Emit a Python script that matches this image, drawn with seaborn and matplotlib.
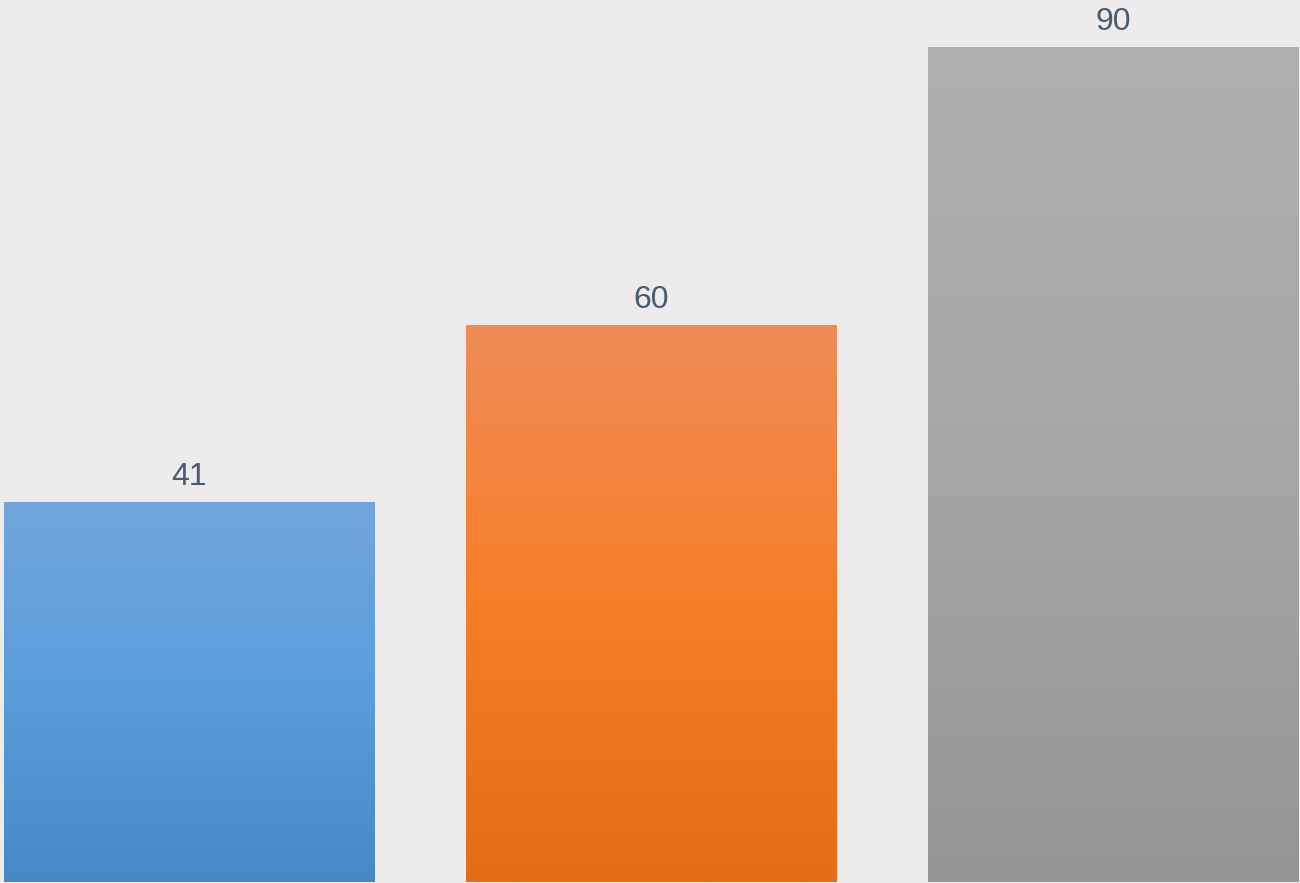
import matplotlib
matplotlib.use("Agg")
import matplotlib.pyplot as plt
import numpy as np
import pandas as pd
import seaborn as sns
from matplotlib.colors import LinearSegmentedColormap

sns.set_theme(style="white")
plt.rcParams["font.family"] = ["Liberation Sans", "DejaVu Sans"]

# data
categories = ["A", "B", "C"]
values = [41, 60, 90]

# gradient stops per bar (top, middle, bottom)
gradients = [
    ["#72a6dc", "#5a9ddd", "#4589c8"],
    ["#f08c58", "#f77e29", "#e46c17"],
    ["#b0b0b0", "#a6a6a6", "#959595"],
]
bg = "#edebec"
label_color = "#4a5a70"

df = pd.DataFrame({"category": categories, "value": values})

fig = plt.figure(figsize=(13, 8.83), dpi=100)
fig.patch.set_facecolor(bg)
ax = fig.add_axes([0, 1 / 883, 1, 1 - 1 / 883])
ax.set_facecolor(bg)

sns.barplot(data=df, x="category", y="value", hue="category",
            palette=[g[1] for g in gradients], width=0.803,
            legend=False, ax=ax, saturation=1)

for patch, stops, val in zip(ax.patches, gradients, values):
    x0, w, h = patch.get_x(), patch.get_width(), patch.get_height()
    cmap = LinearSegmentedColormap.from_list("g", stops[::-1])
    grad = np.linspace(0, 1, 256).reshape(-1, 1)
    im = ax.imshow(grad, cmap=cmap, aspect="auto", origin="lower",
                   extent=[x0, x0 + w, 0, h], zorder=patch.get_zorder() + 0.1)
    im.set_clip_path(patch)
    patch.set_edgecolor("none")
    ax.annotate(f"{val}", (x0 + w / 2, h), xytext=(0, 12.2),
                textcoords="offset points", ha="center", va="baseline",
                fontsize=23, color=label_color)

ax.set_xlim(-0.41, 2.404)
ax.set_ylim(0, 95.05)
ax.set_xticks([])
ax.set_yticks([])
ax.set_xlabel("")
ax.set_ylabel("")
for s in ax.spines.values():
    s.set_visible(False)

fig.savefig("out.png", dpi=100, facecolor=bg)
